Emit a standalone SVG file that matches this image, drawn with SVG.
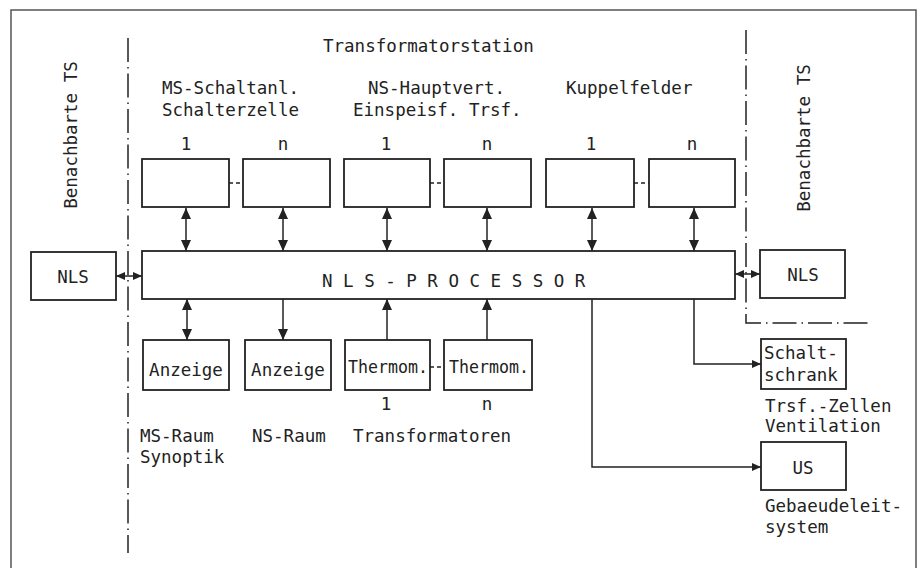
<svg xmlns="http://www.w3.org/2000/svg" width="918" height="568" viewBox="0 0 918 568">
<style>
text{font-family:"DejaVu Sans Mono","Liberation Mono",monospace;font-size:17.5px;fill:#222}
.box{fill:#fff;stroke:#222;stroke-width:1.8}
.ln{fill:none;stroke:#222;stroke-width:1.5}
.dash{fill:none;stroke:#222;stroke-width:1.3;stroke-dasharray:4 3}
.dd{fill:none;stroke:#222;stroke-width:1.5;stroke-dasharray:24 5 1.5 5}
.c{text-anchor:middle}
</style>
<defs>
<marker id="ah" viewBox="0 0 11 11" refX="11" refY="5.5" markerWidth="11" markerHeight="11" markerUnits="userSpaceOnUse" orient="auto-start-reverse">
<path d="M0,0.5 L11,5.5 L0,10.5 Z" fill="#222"/>
</marker>
<marker id="as" viewBox="0 0 9 9" refX="9" refY="4.5" markerWidth="9" markerHeight="9" markerUnits="userSpaceOnUse" orient="auto-start-reverse">
<path d="M0,0.5 L9,4.5 L0,8.5 Z" fill="#222"/>
</marker>
</defs>
<rect x="0" y="0" width="918" height="568" fill="#fff"/>
<g id="frame">
<path d="M11,575 V10 H916 V575" fill="none" stroke="#555" stroke-width="1.5"/>
<path class="dd" d="M128,38 V553"/>
<path class="dd" d="M746,30 V323 H870"/>
</g>
<g id="labels">
<text x="323" y="52">Transformatorstation</text>
<text x="162" y="94">MS-Schaltanl.</text>
<text x="162" y="116">Schalterzelle</text>
<text x="368" y="94">NS-Hauptvert.</text>
<text x="353" y="116">Einspeisf. Trsf.</text>
<text x="566" y="94">Kuppelfelder</text>
<text class="c" x="186" y="150">1</text>
<text class="c" x="283" y="150">n</text>
<text class="c" x="386" y="150">1</text>
<text class="c" x="487" y="150">n</text>
<text class="c" x="591" y="150">1</text>
<text class="c" x="692" y="150">n</text>
<text class="c" transform="translate(77,135) rotate(-90)">Benachbarte TS</text>
<text class="c" transform="translate(810,138) rotate(-90)">Benachbarte TS</text>
<text class="c" x="386" y="410">1</text>
<text class="c" x="487" y="410">n</text>
<text x="140" y="442">MS-Raum</text>
<text x="140" y="463">Synoptik</text>
<text x="252" y="442">NS-Raum</text>
<text x="353" y="442">Transformatoren</text>
<text x="765" y="412">Trsf.-Zellen</text>
<text x="765" y="432">Ventilation</text>
<text x="765" y="512">Gebaeudeleit-</text>
<text x="765" y="533">system</text>
</g>
<g id="connectors">
<path class="dash" d="M229,183 H243 M430,183 H444 M634,183 H649 M430,367 H444"/>
<path class="ln" marker-start="url(#ah)" marker-end="url(#ah)" d="M186,208 V251"/>
<path class="ln" marker-start="url(#ah)" marker-end="url(#ah)" d="M283,208 V251"/>
<path class="ln" marker-start="url(#ah)" marker-end="url(#ah)" d="M387,208 V251"/>
<path class="ln" marker-start="url(#ah)" marker-end="url(#ah)" d="M487,208 V251"/>
<path class="ln" marker-start="url(#ah)" marker-end="url(#ah)" d="M592,208 V251"/>
<path class="ln" marker-start="url(#ah)" marker-end="url(#ah)" d="M694,208 V251"/>
<path class="ln" marker-start="url(#as)" marker-end="url(#as)" d="M116,276 H142"/>
<path class="ln" marker-start="url(#as)" marker-end="url(#as)" d="M735,274 H760"/>
<path class="ln" marker-start="url(#ah)" marker-end="url(#ah)" d="M187,299 V340"/>
<path class="ln" marker-end="url(#ah)" d="M283,299 V340"/>
<path class="ln" marker-end="url(#ah)" d="M387,340 V299"/>
<path class="ln" marker-end="url(#ah)" d="M487,340 V299"/>
<path class="ln" marker-end="url(#as)" d="M694,299 V364 H761"/>
<path class="ln" marker-end="url(#as)" d="M592,299 V467 H761"/>
</g>
<g id="ms1"><rect class="box" x="142" y="159" width="87" height="48"/></g>
<g id="ms2"><rect class="box" x="243" y="159" width="87" height="48"/></g>
<g id="ns1"><rect class="box" x="344" y="159" width="86" height="48"/></g>
<g id="ns2"><rect class="box" x="444" y="159" width="87" height="48"/></g>
<g id="kf1"><rect class="box" x="546" y="159" width="88" height="48"/></g>
<g id="kf2"><rect class="box" x="649" y="159" width="86" height="48"/></g>
<g id="processor"><rect class="box" x="142" y="251" width="593" height="48"/>
<text x="322" y="287">N L S - P R O C E S S O R</text></g>
<g id="nls-left"><rect class="box" x="31" y="252" width="85" height="48"/>
<text class="c" x="73" y="283">NLS</text></g>
<g id="nls-right"><rect class="box" x="760" y="250" width="85" height="48"/>
<text class="c" x="803" y="281">NLS</text></g>
<g id="anzeige1"><rect class="box" x="143" y="340" width="86" height="50"/>
<text class="c" x="186" y="376">Anzeige</text></g>
<g id="anzeige2"><rect class="box" x="245" y="340" width="86" height="50"/>
<text class="c" x="288" y="376">Anzeige</text></g>
<g id="thermom1"><rect class="box" x="345" y="340" width="85" height="50"/>
<text class="c" x="388" y="373" textLength="80" lengthAdjust="spacingAndGlyphs">Thermom.</text></g>
<g id="thermom2"><rect class="box" x="444" y="340" width="88" height="50"/>
<text class="c" x="489" y="373" textLength="80" lengthAdjust="spacingAndGlyphs">Thermom.</text></g>
<g id="schaltschrank"><rect class="box" x="761" y="339" width="85" height="50"/>
<text x="764" y="359">Schalt-</text>
<text x="764" y="381">schrank</text></g>
<g id="us"><rect class="box" x="761" y="442" width="85" height="48"/>
<text class="c" x="803" y="474">US</text></g>
</svg>
